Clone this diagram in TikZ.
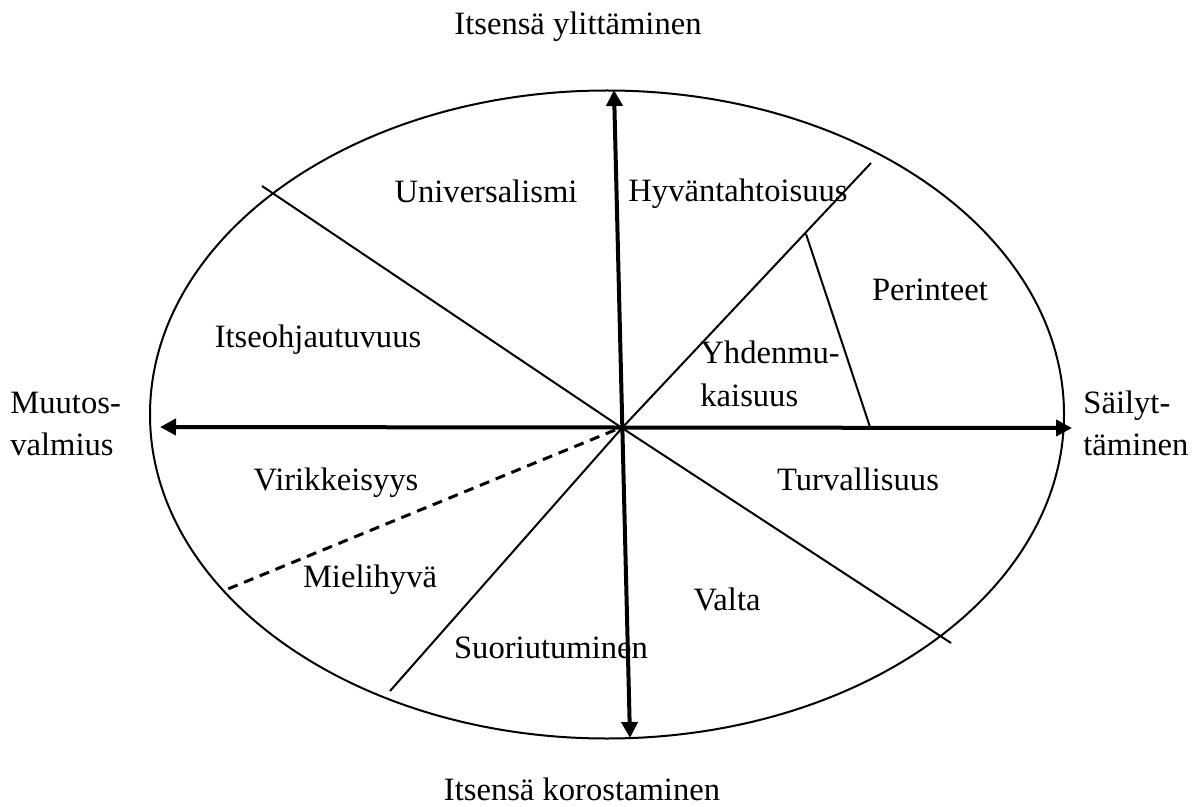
\documentclass[tikz,border=0pt]{standalone}
\usepackage{fontspec}
\setmainfont{Liberation Serif}
\usetikzlibrary{arrows.meta}
\begin{document}
\begin{tikzpicture}[x=0.5pt,y=-0.5pt,
  lbl/.style={inner sep=0pt,anchor=base,font=\fontsize{16.3}{21}\selectfont},
  lbll/.style={inner sep=0pt,anchor=base west,align=left,font=\fontsize{16.3}{21}\selectfont},
  axis/.style={line width=2pt,{Triangle[width=8pt,length=8pt]}-{Triangle[width=8pt,length=8pt]}},
  thinline/.style={line width=1pt},
  dashline/.style={line width=1.5pt,dash pattern=on 5pt off 3.5pt}]
\useasboundingbox (0,0) rectangle (1192,807);
\fill[white] (0,0) rectangle (1192,807);
% ellipse
\draw[line width=1pt] (607,414.5) ellipse [x radius=457, y radius=324];
% coordinates
\coordinate (O) at (622,428);
\coordinate (ul) at (262,186);
\coordinate (ur) at (871,163);
\coordinate (urm) at (806,234);
\coordinate (hx) at (870,427);
\coordinate (lr) at (951,643);
\coordinate (ll) at (390,691);
\coordinate (ldash) at (223,591);
\coordinate (dstart) at (615,430);
\coordinate (top) at (614,90);
\coordinate (bot) at (630,738);
\coordinate (lft) at (160,427);
\coordinate (rgt) at (1072,428);
% sector lines
\draw[thinline] (ul) -- (O);
\draw[thinline] (O) -- (ur);
\draw[thinline] (urm) -- (hx);
\draw[thinline] (O) -- (lr);
\draw[thinline] (O) -- (ll);
\draw[dashline] (dstart) -- (ldash);
% axes
\draw[axis] (bot) -- (top);
\draw[axis] (lft) -- (rgt);
% labels
\node[lbl] (t1) at (578,35) {Itsensä ylittäminen};
\node[lbl] (t2) at (582,800) {Itsensä korostaminen};
\node[lbll] (t3) at (10,455) {Muutos-\\valmius};
\node[lbll] (t4) at (1083,455) {Säilyt-\\täminen};
\node[lbl] (u) at (486,203) {Universalismi};
\node[lbl] (h) at (738,202) {Hyväntahtoisuus};
\node[lbl] (p) at (930,300) {Perinteet};
\node[lbl] (io) at (318,347) {Itseohjautuvuus};
\node[lbll] (y) at (700,406) {Yhdenmu-\\kaisuus};
\node[lbl] (v) at (336,490) {Virikkeisyys};
\node[lbl] (tu) at (858,490) {Turvallisuus};
\node[lbl] (m) at (370,587) {Mielihyvä};
\node[lbl] (va) at (727,610) {Valta};
\node[lbl] (s) at (551,658) {Suoriutuminen};
\end{tikzpicture}
\end{document}
